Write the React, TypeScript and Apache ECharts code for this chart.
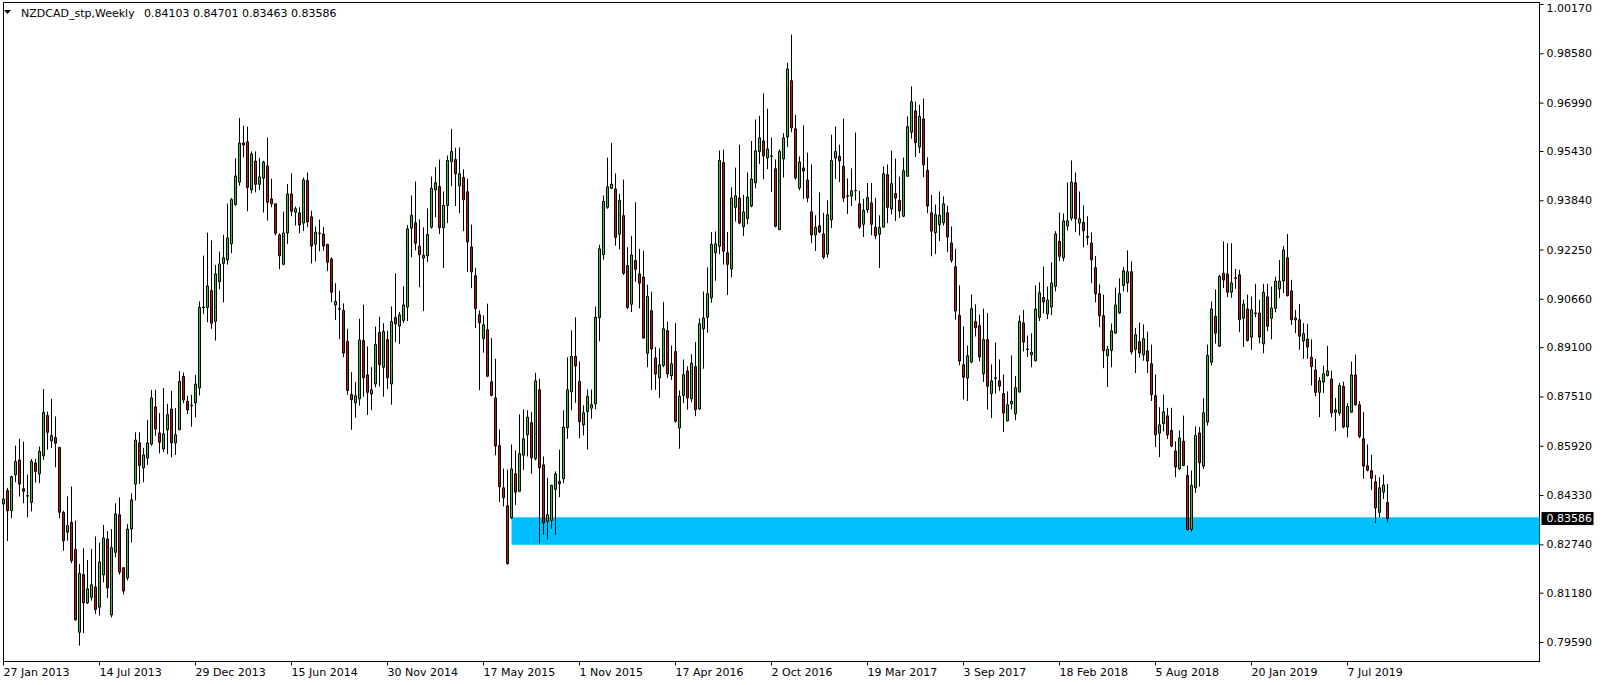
import React, { useEffect, useRef } from 'react';
import * as echarts from 'echarts';

// ---------- header ----------
const symbolTitle = 'NZDCAD_stp,Weekly';
const lastBarOHLC = ['0.84103', '0.84701', '0.83463', '0.83586'];

// ---------- axes ----------
const dateLabels = [
  '27 Jan 2013', '14 Jul 2013', '29 Dec 2013', '15 Jun 2014', '30 Nov 2014',
  '17 May 2015', '1 Nov 2015', '17 Apr 2016', '2 Oct 2016', '19 Mar 2017',
  '3 Sep 2017', '18 Feb 2018', '5 Aug 2018', '20 Jan 2019', '7 Jul 2019',
];
const weeksPerDateLabel = 24;
const weekSlots = 385; // visible weekly slots incl. empty space on the right

const priceTickLabels = [
  '1.00170', '0.98580', '0.96990', '0.95430', '0.93840', '0.92250', '0.90660',
  '0.89100', '0.87510', '0.85920', '0.84330', '0.82740', '0.81180', '0.79590',
];
const priceMin = 0.78977;
const priceMax = 1.00235;

// ---------- support zone ----------
const zoneStartWeek = 127;
const zoneTop = 0.83632;
const zoneBottom = 0.82742;
const currentPriceLabel = '0.83586';

// ---------- weekly bars [open, high, low, close] ----------
const weeks2013 = [
  [0.8406, 0.8465, 0.8309, 0.8422], [0.8449, 0.8458, 0.8286, 0.8384], [0.8384, 0.8497, 0.8360, 0.8494],
  [0.8500, 0.8594, 0.8476, 0.8543], [0.8548, 0.8616, 0.8430, 0.8470], [0.8455, 0.8607, 0.8408, 0.8447],
  [0.8431, 0.8501, 0.8363, 0.8433], [0.8411, 0.8551, 0.8382, 0.8543], [0.8538, 0.8551, 0.8475, 0.8511],
  [0.8503, 0.8591, 0.8473, 0.8575], [0.8561, 0.8777, 0.8548, 0.8701], [0.8691, 0.8704, 0.8581, 0.8637],
  [0.8610, 0.8745, 0.8587, 0.8626], [0.8620, 0.8688, 0.8524, 0.8602], [0.8588, 0.8591, 0.8360, 0.8379],
  [0.8378, 0.8384, 0.8255, 0.8287], [0.8315, 0.8430, 0.8288, 0.8336], [0.8346, 0.8462, 0.8215, 0.8223],
  [0.8259, 0.8352, 0.8030, 0.8032], [0.7992, 0.8212, 0.7949, 0.8182], [0.8178, 0.8263, 0.7989, 0.8087],
  [0.8087, 0.8225, 0.8083, 0.8132], [0.8105, 0.8261, 0.8094, 0.8145], [0.8138, 0.8301, 0.8051, 0.8066],
  [0.8073, 0.8281, 0.8046, 0.8219], [0.8177, 0.8338, 0.8153, 0.8296], [0.8293, 0.8318, 0.8102, 0.8135],
  [0.8048, 0.8325, 0.8040, 0.8265], [0.8250, 0.8408, 0.8234, 0.8374], [0.8371, 0.8427, 0.8178, 0.8186],
  [0.8200, 0.8202, 0.8114, 0.8125], [0.8167, 0.8341, 0.8159, 0.8325], [0.8325, 0.8440, 0.8282, 0.8419],
  [0.8470, 0.8637, 0.8417, 0.8612], [0.8603, 0.8637, 0.8470, 0.8530], [0.8522, 0.8587, 0.8476, 0.8564],
  [0.8554, 0.8677, 0.8532, 0.8603], [0.8599, 0.8774, 0.8594, 0.8748], [0.8719, 0.8774, 0.8626, 0.8648],
  [0.8635, 0.8699, 0.8569, 0.8605], [0.8583, 0.8780, 0.8573, 0.8632], [0.8645, 0.8729, 0.8567, 0.8694],
  [0.8712, 0.8771, 0.8556, 0.8603], [0.8603, 0.8715, 0.8564, 0.8629], [0.8645, 0.8835, 0.8645, 0.8801],
  [0.8817, 0.8830, 0.8731, 0.8741], [0.8737, 0.8755, 0.8696, 0.8709], [0.8723, 0.8758, 0.8655, 0.8725],
  [0.8732, 0.8822, 0.8685, 0.8793],
];
const weeks2014 = [
  [0.8780, 0.9059, 0.8756, 0.9040], [0.9039, 0.9207, 0.9019, 0.9041], [0.9040, 0.9281, 0.8992, 0.9109],
  [0.9094, 0.9256, 0.8971, 0.8989], [0.8995, 0.9177, 0.8933, 0.9148], [0.9123, 0.9220, 0.9099, 0.9180],
  [0.9182, 0.9274, 0.9056, 0.9200], [0.9193, 0.9375, 0.9178, 0.9264], [0.9245, 0.9393, 0.9215, 0.9388],
  [0.9372, 0.9521, 0.9368, 0.9464], [0.9444, 0.9651, 0.9433, 0.9570], [0.9570, 0.9626, 0.9524, 0.9564],
  [0.9574, 0.9623, 0.9350, 0.9427], [0.9419, 0.9543, 0.9408, 0.9535], [0.9512, 0.9543, 0.9411, 0.9437],
  [0.9437, 0.9522, 0.9419, 0.9461], [0.9457, 0.9513, 0.9346, 0.9509], [0.9496, 0.9588, 0.9320, 0.9379],
  [0.9390, 0.9455, 0.9363, 0.9374], [0.9374, 0.9376, 0.9272, 0.9279], [0.9274, 0.9279, 0.9163, 0.9206],
  [0.9179, 0.9349, 0.9176, 0.9280], [0.9280, 0.9438, 0.9245, 0.9406], [0.9406, 0.9472, 0.9334, 0.9350],
  [0.9347, 0.9365, 0.9304, 0.9358], [0.9345, 0.9363, 0.9279, 0.9306], [0.9312, 0.9459, 0.9286, 0.9451],
  [0.9449, 0.9475, 0.9299, 0.9316], [0.9332, 0.9352, 0.9182, 0.9238], [0.9244, 0.9301, 0.9188, 0.9283],
  [0.9280, 0.9323, 0.9221, 0.9278], [0.9277, 0.9299, 0.9223, 0.9238], [0.9243, 0.9245, 0.9157, 0.9186],
  [0.9196, 0.9202, 0.9057, 0.9089], [0.9048, 0.9118, 0.8999, 0.9059], [0.9036, 0.9094, 0.8938, 0.9034],
  [0.9030, 0.9053, 0.8879, 0.8893], [0.8930, 0.8971, 0.8758, 0.8772], [0.8759, 0.8831, 0.8645, 0.8742],
  [0.8732, 0.8799, 0.8684, 0.8755], [0.8745, 0.9003, 0.8723, 0.8935], [0.8933, 0.9049, 0.8752, 0.8813],
  [0.8822, 0.8914, 0.8693, 0.8766], [0.8761, 0.8847, 0.8709, 0.8774], [0.8793, 0.8978, 0.8782, 0.8920],
  [0.8959, 0.9010, 0.8785, 0.8855], [0.8847, 0.8989, 0.8752, 0.8962], [0.8936, 0.8965, 0.8777, 0.8813],
  [0.8793, 0.9043, 0.8726, 0.8994], [0.9007, 0.9150, 0.8928, 0.8987], [0.8980, 0.9025, 0.8922, 0.9016],
  [0.8998, 0.9108, 0.8990, 0.9048],
];
const weeks2015 = [
  [0.9041, 0.9306, 0.8996, 0.9293], [0.9296, 0.9401, 0.9202, 0.9337], [0.9313, 0.9446, 0.9224, 0.9247],
  [0.9237, 0.9324, 0.9105, 0.9210], [0.9199, 0.9298, 0.9028, 0.9208], [0.9206, 0.9359, 0.9186, 0.9275],
  [0.9299, 0.9462, 0.9294, 0.9424], [0.9419, 0.9492, 0.9331, 0.9442], [0.9430, 0.9517, 0.9277, 0.9297],
  [0.9297, 0.9414, 0.9167, 0.9369], [0.9369, 0.9530, 0.9312, 0.9514], [0.9510, 0.9616, 0.9431, 0.9543],
  [0.9517, 0.9555, 0.9367, 0.9471], [0.9432, 0.9556, 0.9344, 0.9471], [0.9459, 0.9485, 0.9286, 0.9387],
  [0.9413, 0.9455, 0.9154, 0.9251], [0.9235, 0.9307, 0.9102, 0.9154], [0.9142, 0.9168, 0.8973, 0.9036],
  [0.9016, 0.9030, 0.8773, 0.8990], [0.8939, 0.9014, 0.8894, 0.8984], [0.8968, 0.9052, 0.8815, 0.8818],
  [0.8800, 0.8941, 0.8753, 0.8756], [0.8748, 0.8874, 0.8563, 0.8593], [0.8594, 0.8646, 0.8412, 0.8461],
  [0.8458, 0.8520, 0.8398, 0.8426], [0.8400, 0.8517, 0.8211, 0.8213], [0.8361, 0.8598, 0.8358, 0.8519],
  [0.8503, 0.8579, 0.8403, 0.8444], [0.8447, 0.8695, 0.8444, 0.8568], [0.8563, 0.8711, 0.8516, 0.8616],
  [0.8629, 0.8708, 0.8559, 0.8686], [0.8668, 0.8702, 0.8503, 0.8555], [0.8552, 0.8829, 0.8546, 0.8803],
  [0.8774, 0.8810, 0.8278, 0.8523], [0.8532, 0.8559, 0.8307, 0.8345], [0.8350, 0.8490, 0.8291, 0.8371],
  [0.8353, 0.8468, 0.8326, 0.8466], [0.8453, 0.8511, 0.8307, 0.8503], [0.8479, 0.8581, 0.8428, 0.8471],
  [0.8487, 0.8708, 0.8473, 0.8654], [0.8652, 0.8879, 0.8616, 0.8774], [0.8767, 0.8966, 0.8708, 0.8882],
  [0.8882, 0.9008, 0.8732, 0.8851], [0.8801, 0.8866, 0.8618, 0.8672], [0.8661, 0.8724, 0.8627, 0.8700],
  [0.8704, 0.8775, 0.8581, 0.8753], [0.8715, 0.8775, 0.8681, 0.8726], [0.8729, 0.9043, 0.8711, 0.9008],
  [0.9007, 0.9242, 0.8931, 0.9229], [0.9210, 0.9401, 0.9194, 0.9382], [0.9363, 0.9523, 0.9358, 0.9429],
  [0.9424, 0.9570, 0.9422, 0.9438],
];
const weeks2016 = [
  [0.9422, 0.9472, 0.9239, 0.9266], [0.9276, 0.9406, 0.9227, 0.9385], [0.9336, 0.9452, 0.9145, 0.9150],
  [0.9175, 0.9234, 0.9035, 0.9040], [0.9050, 0.9270, 0.9025, 0.9209], [0.9191, 0.9379, 0.9123, 0.9163],
  [0.9148, 0.9229, 0.9037, 0.9118], [0.9138, 0.9223, 0.8939, 0.8941], [0.8892, 0.9113, 0.8847, 0.9075],
  [0.9029, 0.9091, 0.8774, 0.8906], [0.8877, 0.8912, 0.8774, 0.8825], [0.8813, 0.8908, 0.8748, 0.8855],
  [0.8853, 0.9057, 0.8847, 0.8971], [0.8965, 0.8994, 0.8813, 0.8826], [0.8820, 0.8917, 0.8806, 0.8858],
  [0.8898, 0.8989, 0.8668, 0.8673], [0.8651, 0.8772, 0.8584, 0.8753], [0.8756, 0.8872, 0.8731, 0.8823],
  [0.8835, 0.8850, 0.8710, 0.8748], [0.8745, 0.8889, 0.8734, 0.8861], [0.8849, 0.8928, 0.8689, 0.8710],
  [0.8713, 0.9005, 0.8710, 0.8987], [0.8971, 0.9091, 0.8842, 0.9006], [0.9008, 0.9169, 0.8958, 0.9084],
  [0.9071, 0.9283, 0.9055, 0.9243], [0.9216, 0.9285, 0.9126, 0.9245], [0.9237, 0.9546, 0.9212, 0.9514],
  [0.9507, 0.9549, 0.9178, 0.9221], [0.9216, 0.9283, 0.9080, 0.9179], [0.9164, 0.9427, 0.9137, 0.9393],
  [0.9363, 0.9491, 0.9317, 0.9400], [0.9393, 0.9565, 0.9308, 0.9312], [0.9300, 0.9403, 0.9270, 0.9348],
  [0.9326, 0.9475, 0.9308, 0.9396], [0.9367, 0.9577, 0.9363, 0.9454], [0.9442, 0.9646, 0.9424, 0.9545],
  [0.9543, 0.9658, 0.9503, 0.9587], [0.9577, 0.9730, 0.9453, 0.9529], [0.9522, 0.9681, 0.9486, 0.9551],
  [0.9529, 0.9588, 0.9412, 0.9527], [0.9487, 0.9517, 0.9298, 0.9302], [0.9291, 0.9550, 0.9289, 0.9543],
  [0.9519, 0.9602, 0.9459, 0.9587], [0.9590, 0.9829, 0.9557, 0.9809], [0.9771, 0.9920, 0.9605, 0.9619],
  [0.9616, 0.9662, 0.9452, 0.9458], [0.9425, 0.9527, 0.9418, 0.9509], [0.9490, 0.9627, 0.9390, 0.9480],
  [0.9451, 0.9539, 0.9379, 0.9393], [0.9348, 0.9501, 0.9247, 0.9274], [0.9274, 0.9337, 0.9222, 0.9298],
  [0.9303, 0.9411, 0.9280, 0.9283],
];
const weeks2017 = [
  [0.9277, 0.9345, 0.9196, 0.9202], [0.9212, 0.9385, 0.9200, 0.9339], [0.9323, 0.9597, 0.9296, 0.9514],
  [0.9522, 0.9624, 0.9454, 0.9543], [0.9527, 0.9565, 0.9444, 0.9513], [0.9495, 0.9649, 0.9380, 0.9393],
  [0.9400, 0.9456, 0.9341, 0.9398], [0.9399, 0.9488, 0.9367, 0.9416], [0.9416, 0.9604, 0.9385, 0.9417],
  [0.9374, 0.9417, 0.9293, 0.9299], [0.9308, 0.9390, 0.9267, 0.9353], [0.9355, 0.9441, 0.9345, 0.9394],
  [0.9377, 0.9441, 0.9273, 0.9308], [0.9299, 0.9393, 0.9260, 0.9271], [0.9276, 0.9337, 0.9167, 0.9298],
  [0.9299, 0.9495, 0.9297, 0.9471], [0.9468, 0.9501, 0.9312, 0.9363], [0.9358, 0.9546, 0.9340, 0.9439],
  [0.9407, 0.9520, 0.9319, 0.9393], [0.9385, 0.9462, 0.9329, 0.9351], [0.9334, 0.9523, 0.9331, 0.9481],
  [0.9463, 0.9656, 0.9462, 0.9623], [0.9605, 0.9753, 0.9584, 0.9703], [0.9674, 0.9704, 0.9525, 0.9571],
  [0.9557, 0.9694, 0.9538, 0.9656], [0.9648, 0.9714, 0.9460, 0.9500], [0.9482, 0.9524, 0.9344, 0.9367],
  [0.9345, 0.9403, 0.9205, 0.9286], [0.9281, 0.9372, 0.9212, 0.9339], [0.9307, 0.9414, 0.9254, 0.9337],
  [0.9313, 0.9398, 0.9304, 0.9374], [0.9345, 0.9368, 0.9218, 0.9267], [0.9248, 0.9301, 0.9184, 0.9192],
  [0.9171, 0.9229, 0.9000, 0.9028], [0.9014, 0.9111, 0.8853, 0.8867], [0.8855, 0.8979, 0.8743, 0.8815],
  [0.8812, 0.8917, 0.8738, 0.8884], [0.8864, 0.9082, 0.8860, 0.9036], [0.8994, 0.9050, 0.8946, 0.8974],
  [0.8981, 0.9017, 0.8866, 0.8880], [0.8826, 0.9036, 0.8799, 0.8936], [0.8936, 0.9022, 0.8710, 0.8786],
  [0.8762, 0.8856, 0.8683, 0.8803], [0.8813, 0.8927, 0.8762, 0.8811], [0.8803, 0.8872, 0.8770, 0.8786],
  [0.8762, 0.8824, 0.8638, 0.8699], [0.8674, 0.8769, 0.8672, 0.8726], [0.8729, 0.8885, 0.8711, 0.8737],
  [0.8697, 0.8819, 0.8676, 0.8781], [0.8767, 0.9014, 0.8765, 0.8995], [0.8990, 0.9032, 0.8898, 0.8928],
  [0.8906, 0.8949, 0.8880, 0.8904], [0.8887, 0.8956, 0.8847, 0.8895],
];
const weeks2018 = [
  [0.8868, 0.9111, 0.8866, 0.9035], [0.9008, 0.9121, 0.8996, 0.9087], [0.9072, 0.9172, 0.9021, 0.9057],
  [0.9019, 0.9107, 0.9002, 0.9064], [0.9041, 0.9185, 0.9015, 0.9119], [0.9108, 0.9286, 0.9092, 0.9277],
  [0.9253, 0.9346, 0.9189, 0.9205], [0.9200, 0.9343, 0.9189, 0.9319], [0.9303, 0.9443, 0.9288, 0.9319],
  [0.9328, 0.9514, 0.9320, 0.9444], [0.9442, 0.9475, 0.9283, 0.9326], [0.9312, 0.9414, 0.9272, 0.9326],
  [0.9314, 0.9369, 0.9234, 0.9287], [0.9269, 0.9334, 0.9241, 0.9266], [0.9248, 0.9282, 0.9118, 0.9193],
  [0.9168, 0.9206, 0.9056, 0.9084], [0.9084, 0.9114, 0.8976, 0.9013], [0.9013, 0.9081, 0.8844, 0.8900],
  [0.8884, 0.8916, 0.8783, 0.8905], [0.8901, 0.8988, 0.8847, 0.8964], [0.8957, 0.9104, 0.8955, 0.9048],
  [0.9022, 0.9134, 0.9019, 0.9084], [0.9111, 0.9171, 0.9092, 0.9158], [0.9119, 0.9224, 0.9089, 0.9155],
  [0.9155, 0.9188, 0.8888, 0.8896], [0.8905, 0.8974, 0.8828, 0.8952], [0.8929, 0.8991, 0.8878, 0.8893],
  [0.8887, 0.8985, 0.8868, 0.8939], [0.8900, 0.8962, 0.8828, 0.8867], [0.8858, 0.8920, 0.8738, 0.8758],
  [0.8755, 0.8824, 0.8589, 0.8629], [0.8634, 0.8718, 0.8557, 0.8661], [0.8665, 0.8759, 0.8640, 0.8703],
  [0.8690, 0.8716, 0.8615, 0.8629], [0.8643, 0.8716, 0.8589, 0.8593], [0.8577, 0.8608, 0.8492, 0.8525],
  [0.8519, 0.8643, 0.8517, 0.8619], [0.8608, 0.8691, 0.8528, 0.8530], [0.8498, 0.8530, 0.8321, 0.8323],
  [0.8324, 0.8514, 0.8317, 0.8466], [0.8458, 0.8656, 0.8442, 0.8627], [0.8635, 0.8654, 0.8462, 0.8539],
  [0.8528, 0.8747, 0.8519, 0.8700], [0.8670, 0.8920, 0.8659, 0.8885], [0.8863, 0.9059, 0.8853, 0.9035],
  [0.9011, 0.9098, 0.8923, 0.8957], [0.8915, 0.9145, 0.8912, 0.9140], [0.9150, 0.9253, 0.9102, 0.9128],
  [0.9148, 0.9247, 0.9073, 0.9089], [0.9089, 0.9247, 0.9071, 0.9119], [0.9136, 0.9164, 0.9100, 0.9134],
  [0.9145, 0.9161, 0.8960, 0.9000],
];
const weeks2019 = [
  [0.9005, 0.9065, 0.8912, 0.9051], [0.9035, 0.9081, 0.8930, 0.8933], [0.8944, 0.9075, 0.8903, 0.9032],
  [0.9022, 0.9116, 0.9008, 0.9020], [0.9022, 0.9065, 0.8924, 0.8944], [0.8922, 0.9116, 0.8892, 0.9088],
  [0.9074, 0.9116, 0.8963, 0.8979], [0.9005, 0.9107, 0.8937, 0.9038], [0.9037, 0.9139, 0.9024, 0.9125],
  [0.9100, 0.9193, 0.9070, 0.9125], [0.9125, 0.9238, 0.9086, 0.9225], [0.9200, 0.9277, 0.9075, 0.9078],
  [0.9093, 0.9129, 0.8984, 0.9000], [0.9000, 0.9032, 0.8957, 0.9006], [0.9000, 0.9051, 0.8903, 0.8947],
  [0.8932, 0.8989, 0.8874, 0.8955], [0.8938, 0.8987, 0.8874, 0.8912], [0.8879, 0.8937, 0.8788, 0.8849],
  [0.8838, 0.8874, 0.8753, 0.8766], [0.8766, 0.8815, 0.8686, 0.8803], [0.8799, 0.8852, 0.8764, 0.8826],
  [0.8820, 0.8916, 0.8817, 0.8835], [0.8809, 0.8836, 0.8686, 0.8700], [0.8702, 0.8748, 0.8641, 0.8709],
  [0.8699, 0.8796, 0.8691, 0.8788], [0.8785, 0.8800, 0.8650, 0.8654], [0.8654, 0.8731, 0.8621, 0.8720],
  [0.8702, 0.8865, 0.8700, 0.8822], [0.8822, 0.8888, 0.8723, 0.8726], [0.8726, 0.8738, 0.8618, 0.8624],
  [0.8616, 0.8702, 0.8487, 0.8528], [0.8529, 0.8598, 0.8511, 0.8515], [0.8513, 0.8564, 0.8451, 0.8489],
  [0.8477, 0.8499, 0.8344, 0.8393], [0.8379, 0.8492, 0.8363, 0.8458], [0.8444, 0.8500, 0.8422, 0.8467],
  [0.84103, 0.84701, 0.83463, 0.83586],
];

// ---------- styles ----------
const bullColor = '#22D022';
const bearColor = '#D01010';
const zoneColor = '#00BFFF';
const FONT = '11px "DejaVu Sans"';

export default function App() {
  const ref = useRef<HTMLDivElement>(null);

  useEffect(() => {
    if (!ref.current) return;
    const chart = echarts.init(ref.current, undefined, { renderer: 'svg' });

    const weeklyBars = [...weeks2013, ...weeks2014, ...weeks2015, ...weeks2016, ...weeks2017, ...weeks2018, ...weeks2019];
    const candleData = weeklyBars.map(([o, h, l, c]) => [o, c, l, h]);
    const categories = Array.from({ length: weekSlots }, (_, i) => String(i));
    const isLabelWeek = (i: number) => i % weeksPerDateLabel === 0 && i / weeksPerDateLabel < dateLabels.length;

    const option: any = {
      animation: false,
      backgroundColor: '#ffffff',
      textStyle: { fontFamily: 'DejaVu Sans' },
      grid: {
        left: 3.5, right: 64.5, top: 2.5, bottom: 23.5,
        show: true, borderColor: '#000', borderWidth: 1, backgroundColor: 'transparent',
      },
      graphic: [
        { type: 'polygon', shape: { points: [[4, 10], [11, 10], [7.5, 14]] }, style: { fill: '#000' } },
        { type: 'text', x: 21, y: 13, style: { text: symbolTitle, fill: '#000', font: FONT, verticalAlign: 'middle' } },
        { type: 'text', x: 144, y: 13, style: { text: lastBarOHLC.join(' '), fill: '#000', font: FONT, verticalAlign: 'middle' } },
      ],
      xAxis: {
        type: 'category',
        data: categories,
        boundaryGap: false,
        axisLine: { show: true, lineStyle: { color: '#000', width: 1 } },
        axisTick: { show: true, interval: (i: number) => isLabelWeek(i), length: 4, lineStyle: { color: '#000' } },
        axisLabel: {
          interval: (i: number) => isLabelWeek(i),
          formatter: (_v: string, i: number) => dateLabels[i / weeksPerDateLabel] ?? '',
          align: 'left', color: '#000', fontSize: 11, fontFamily: 'DejaVu Sans', margin: 5,
        },
        splitLine: { show: false },
      },
      yAxis: {
        type: 'value', position: 'right', min: priceMin, max: priceMax, scale: true,
        axisLine: { show: true, lineStyle: { color: '#000' } },
        axisTick: { show: false }, axisLabel: { show: false }, splitLine: { show: false },
      },
      series: [
        {
          type: 'candlestick',
          data: candleData,
          barWidth: 2,
          clip: true,
          itemStyle: {
            color: bullColor, color0: bearColor,
            borderColor: '#000', borderColor0: '#000', borderColorDoji: '#000', borderWidth: 1,
          },
          markArea: {
            silent: true,
            itemStyle: { color: zoneColor, opacity: 1 },
            data: [[{ coord: [zoneStartWeek, zoneTop] }, { coord: [weekSlots - 1, zoneBottom] }]],
          },
          z: 3,
        },
        {
          type: 'custom',
          silent: true,
          data: priceTickLabels.map((s) => [0, Number(s)]),
          renderItem: (params: any, api: any) => {
            const val = api.value(1);
            const y = api.coord([0, val])[1];
            const x = params.coordSys.x + params.coordSys.width;
            const label = priceTickLabels[params.dataIndex];
            return {
              type: 'group',
              children: [
                { type: 'line', shape: { x1: x, y1: y, x2: x + 4, y2: y }, style: { stroke: '#000', lineWidth: 1 } },
                { type: 'text', x: x + 7, y: Math.max(y, 8), style: { text: label, fill: '#000', font: FONT, verticalAlign: 'middle' } },
              ],
            };
          },
          z: 4,
        },
        {
          type: 'custom',
          silent: true,
          data: [[weeklyBars.length - 1, Number(currentPriceLabel)]],
          renderItem: (params: any, api: any) => {
            const y = api.coord([0, api.value(1)])[1];
            const x = params.coordSys.x + params.coordSys.width;
            return {
              type: 'group',
              children: [
                { type: 'rect', shape: { x: x + 2, y: y - 6.5, width: 52, height: 13 }, style: { fill: '#000' } },
                { type: 'text', x: x + 7, y, style: { text: currentPriceLabel, fill: '#fff', font: FONT, verticalAlign: 'middle' } },
              ],
            };
          },
          z: 6,
        },
      ],
    };

    chart.setOption(option);
    return () => chart.dispose();
  }, []);

  return (
    <div
      ref={ref}
      style={{ position: 'fixed', left: 0, top: 0, width: 1604, height: 685, background: '#fff' }}
    />
  );
}
